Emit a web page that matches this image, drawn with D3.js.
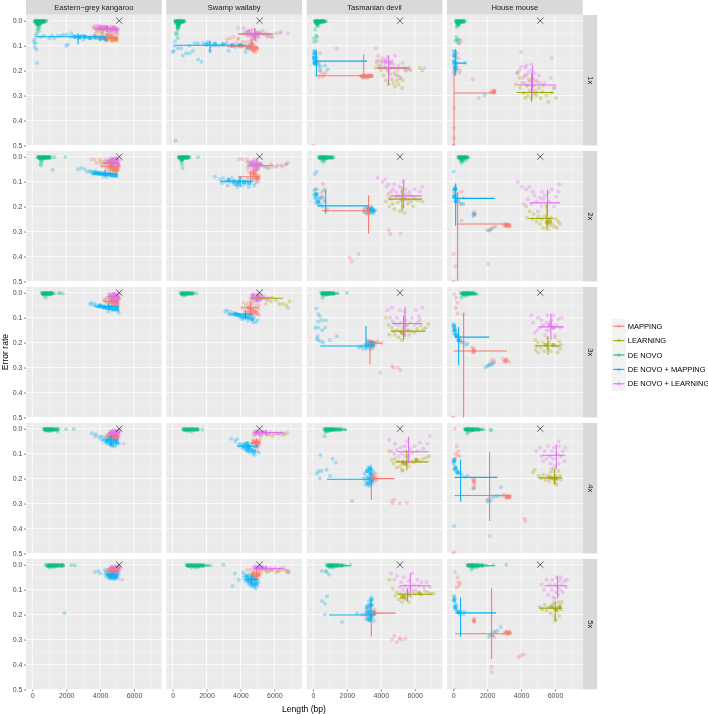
<!DOCTYPE html>
<html><head><meta charset="utf-8">
<script src="https://cdn.jsdelivr.net/npm/d3@7/dist/d3.min.js"></script>
<style>html,body{margin:0;padding:0;background:#fff}svg{display:block;font-family:"Liberation Sans",Arial,sans-serif;filter:blur(.3px)}</style>
</head><body><svg id="c" width="708" height="714"></svg>
<script>
const species=["Eastern\u2212grey kangaroo","Swamp wallaby","Tasmanian devil","House mouse"];
const coverage=["1x","2x","3x","4x","5x"];
const seriesNames=["MAPPING","LEARNING","DE NOVO","DE NOVO + MAPPING","DE NOVO + LEARNING"];
const seriesColors=["#F8766D","#A3A500","#00BF7D","#00B0F6","#E76BF3"];
const xTicks=[0,2000,4000,6000], xMinor=[1000,3000,5000,7000];
const yTicks=[0,.1,.2,.3,.4,.5], yMinor=[.05,.15,.25,.35,.45];
const referenceLength=5130, referenceError=0;

// points: [species][coverage] -> flat length,error pairs
const mappingPts=[[
[3700,.055,3900,.06,4000,.075,4100,.05,4200,.065,4300,.07,4350,.055,4400,.08,4500,.062,4550,.072,4600,.05,4650,.07,4700,.082,4750,.065,4800,.06,4850,.075,4900,.07,4950,.08,5000,.068,5020,.055,3800,.04,4000,.045,4200,.04],
[3500,.01,3700,.012,3800,.025,4000,.01,4050,.03,4200,.02,4300,.035,4350,.05,4450,.04,4500,.055,4600,.03,4650,.045,4700,.06,4750,.05,4800,.035,4850,.055,4900,.04,4950,.06,5000,.05,5050,.035,5100,.045,4550,.02],
[4200,.03,4300,.025,4400,.04,4450,.03,4500,.05,4550,.035,4600,.045,4650,.03,4700,.055,4750,.04,4800,.05,4850,.035,4900,.055,4950,.045,5000,.04,5050,.055,5100,.045,4350,.035,4600,.025,4800,.028],
[4350,.03,4450,.025,4500,.04,4550,.03,4650,.04,4700,.025,4750,.045,4800,.03,4850,.04,4950,.03,5000,.04,5050,.025,5100,.035,4600,.018,4900,.015],
[4400,.03,4450,.02,4550,.035,4600,.02,4650,.03,4700,.035,4750,.015,4800,.03,4850,.025,4950,.035,5000,.02,5050,.03,5100,.025,4700,.01]
],[
[3200,.075,3400,.07,3600,.065,3700,.09,3850,.075,4000,.105,4100,.085,4200,.1,4300,.085,4350,.11,4450,.1,4500,.085,4550,.115,4600,.095,4650,.075,4700,.105,4750,.12,4800,.1,4850,.11,4900,.125,4950,.105,5000,.115,4650,.09,4800,.125],
[3900,.01,4100,.01,4400,.045,4500,.06,4600,.065,4650,.05,4700,.08,4750,.06,4800,.07,4850,.055,4900,.085,4950,.07,5000,.08,5050,.09,5100,.075,5050,.1,4950,.095,4800,.09],
[4100,.06,4200,.04,4250,.075,4350,.05,4450,.07,4500,.04,4550,.06,4600,.085,4650,.05,4700,.07,4750,.04,4800,.09,4850,.06,4900,.075,4950,.05,5000,.085,5050,.065,5100,.05,5100,.09,5500,.045,4450,.09],
[4700,.045,4750,.06,4800,.05,4850,.07,4900,.045,4950,.06,5000,.075,5050,.05,5100,.065,5150,.045,4900,.07,4850,.05,5000,.055],
[4400,.02,4600,.02,4700,.035,4750,.05,4800,.03,4850,.045,4900,.055,4950,.035,5000,.05,5050,.03,5100,.045,5180,.025,5800,.02,6200,.025,6800,.03]
],[
[20,.5,350,.17,400,.13,420,.2,520,.21,660,.215,760,.205,1400,.11,2800,.222,2900,.225,3000,.22,3050,.226,3100,.219,3150,.224,3200,.221,3250,.226,3300,.22,3350,.222,3400,.218,3450,.221,2950,.23,3200,.23,350,.225,600,.225],
[600,.11,500,.145,720,.13,640,.17,460,.165,240,.13,2990,.22,3050,.205,3100,.225,3150,.21,3200,.23,3250,.2,3280,.218,3300,.225,3400,.21,3450,.222,3500,.205,3550,.22,4460,.295,4560,.31,5150,.308,2690,.39,2160,.405,2280,.42,740,.215,850,.21],
[3185,.19,3250,.2,3300,.21,3350,.2,3400,.215,3450,.195,3500,.205,3550,.22,3600,.2,3650,.21,3750,.2,3800,.195,4060,.202,4750,.3,3970,.32,4650,.296,5000,.3,5150,.31],
[3480,.19,3550,.2,3600,.185,3650,.21,3700,.195,3750,.205,3700,.18,3650,.2,4660,.29,4700,.3,5100,.3,5540,.298,4800,.285,3500,.21],
[3100,.195,3150,.21,3200,.19,3300,.2,3400,.185,3500,.2,3600,.19,3700,.195,3620,.18,3550,.205,3300,.175,4660,.3,4800,.285,4950,.31,5100,.295,5200,.3,5450,.297]
],[
[240,.13,300,.15,200,.17,400,.2,1150,.235,260,.19,2200,.285,2300,.29,2350,.28,2450,.28,2400,.288,1500,.31,20,.5,30,.47,40,.43,50,.35,10,.5,360,.09,240,.08,460,.08,360,.21],
[2970,.275,3050,.27,3100,.28,3150,.272,3200,.278,3280,.273,3320,.28,2000,.295,2150,.297,2250,.29,2400,.282,2480,.28,1230,.222,1290,.23,1200,.234,220,.15,300,.17,500,.14,400,.19,600,.165,20,.39,120,.44,2050,.43,-20,.5,40,.5,480,.255],
[50,.005,150,.02,250,.04,140,.06,250,.083,600,.085,1100,.22,1200,.23,1230,.24,1150,.24,1200,.225,2100,.29,2200,.28,2300,.27,2400,.275,2950,.265,3050,.28,3165,.27,3300,.278,3000,.275,420,.19,500,.2,0,.5,-10,.5],
[80,.0,200,.07,300,.09,250,.105,100,.12,120,.1,350,.11,1150,.205,1230,.2,1270,.22,1200,.225,1180,.24,1250,.235,2900,.27,3000,.265,3100,.278,3200,.27,3250,.275,3300,.272,3360,.27,4190,.36,4250,.37,2140,.43,0,.5,40,.495,2150,.27,2000,.285],
[100,.03,250,.05,300,.07,400,.075,180,.09,320,.085,1180,.22,1230,.23,1250,.215,3000,.275,3100,.27,3200,.28,3300,.272,3360,.275,2250,.28,2400,.29,2500,.27,3850,.37,4000,.365,4150,.36,2260,.41,2280,.43,-10,.505,80,.5]
]];
const learningPts=[[
[3650,.03,3800,.045,4000,.035,4150,.05,4300,.03,4450,.055,4600,.04,4750,.03,4900,.05,4950,.075,5000,.078,4500,.075,4700,.078,4200,.07],
[4000,.02,4200,.03,4400,.02,4500,.04,4650,.015,4750,.03,4900,.05,5000,.02,5100,.035,4850,.01],
[4400,.02,4550,.01,4700,.025,4850,.01,4950,.03,5050,.015,5100,.025,4700,.005],
[4500,.02,4650,.01,4800,.025,4950,.01,5050,.02,5150,.005],
[4500,.02,4700,.01,4850,.02,5000,.005,5100,.015,5150,.01]
],[
[3900,.07,4200,.05,4400,.06,4600,.04,4800,.055,5000,.065,5200,.05,5400,.055,5600,.06,5800,.065,6100,.05,6400,.045,4700,.08],
[4400,.02,4600,.035,4800,.02,5000,.05,5200,.03,5400,.04,5600,.045,5800,.03,6100,.04,6400,.035,6700,.03],
[4700,.02,4950,.03,5200,.025,5400,.015,5600,.03,5800,.035,5900,.02,6100,.03,6300,.045,6500,.045,6700,.05,6900,.035,6800,.06],
[4800,.025,5000,.015,5200,.03,5400,.015,5550,.025,5700,.02,5900,.03,6100,.02,6300,.02,6500,.025,6650,.02],
[4800,.03,5000,.015,5200,.035,5400,.02,5550,.03,5700,.025,5900,.02,6100,.03,6300,.025,6500,.02,6700,.025,6850,.03]
],[
[3775,.16,3900,.18,4000,.2,4050,.165,4150,.22,4250,.19,4300,.24,4400,.2,4450,.255,4550,.215,4600,.17,4650,.235,4750,.25,4800,.21,4850,.265,4950,.24,5000,.22,5050,.255,5150,.23,5250,.27,5300,.24,5400,.19,5500,.2,5650,.19,5750,.2,6300,.19,6450,.2,3700,.19],
[4300,.18,4450,.15,4500,.2,4600,.17,4700,.19,4800,.21,4900,.16,5000,.185,5100,.22,5200,.175,5300,.2,5400,.225,5500,.17,5600,.19,5700,.155,5800,.18,5900,.2,6000,.17,6200,.175,6450,.18],
[4300,.1,4450,.13,4500,.17,4650,.14,4750,.155,4850,.17,4950,.15,5050,.18,5150,.155,5250,.19,5350,.165,5450,.13,5550,.15,5650,.17,5800,.155,6000,.16,6150,.145,6350,.13,6500,.145,6650,.14,6800,.125],
[4500,.09,4650,.125,4750,.14,4850,.12,4950,.155,5050,.13,5150,.15,5250,.165,5350,.14,5450,.11,5550,.13,5650,.15,5800,.13,5950,.135,6100,.125,6300,.13,6500,.12,6700,.115,6850,.11,5300,.17],
[4500,.06,4700,.095,4850,.125,4950,.11,5050,.14,5150,.115,5250,.15,5350,.12,5450,.14,5550,.115,5650,.15,5750,.125,5850,.105,6000,.115,6200,.11,6400,.12,6600,.105,6750,.11,6950,.115,7100,.115]
],[
[3750,.21,3900,.23,3950,.27,4050,.25,4150,.29,4200,.22,4250,.31,4350,.26,4400,.3,4450,.235,4500,.28,4600,.31,4650,.26,4700,.295,4750,.24,4850,.28,4900,.3,4950,.25,5050,.27,5150,.31,5250,.285,5300,.26,5500,.3,5600,.325,5800,.29,5950,.27,6050,.31,3700,.255],
[4300,.2,4500,.22,4650,.25,4750,.23,4900,.26,5000,.24,5100,.27,5200,.25,5300,.285,5400,.24,5500,.26,5550,.29,5600,.25,5700,.275,5750,.245,5850,.27,5950,.28,6050,.25,6100,.285,6200,.26,6300,.27,4350,.245],
[4840,.19,4850,.23,4900,.215,5000,.2,5000,.24,5150,.22,5300,.2,5350,.235,5450,.21,5550,.18,5600,.225,5650,.2,5750,.235,5850,.21,6000,.18,6100,.215,6150,.24,6250,.195,6300,.225,6350,.21],
[5030,.19,5200,.2,5300,.185,5450,.205,5550,.19,5650,.21,5750,.175,5850,.195,5950,.165,6000,.215,6050,.19,6100,.225,6150,.2,6200,.17,6300,.19,6350,.205,4800,.165,4700,.175],
[5090,.17,5250,.18,5400,.16,5500,.185,5650,.17,5750,.195,5850,.16,5950,.205,6000,.175,6050,.22,6150,.185,6200,.15,6250,.205,6300,.165,6350,.18,6400,.15,6000,.225,5950,.15]
]];
const denovoPts=[[
[120,0,200,.002,280,0,340,.004,400,0,460,.002,520,0,580,.003,650,0,720,.002,800,.001,850,0,180,.008,260,.01,330,.012,420,.009,500,.01,600,.008,300,.02,380,.018,450,.016,350,.028,300,.035,420,.03,380,.042,250,.05,200,.003,300,.005,450,.005],
[300,0,380,.003,450,0,520,.004,600,0,680,.003,760,0,840,.003,920,0,1000,.002,1100,.001,1300,.002,1950,.001,420,.008,520,.01,600,.008,700,.007,500,.018,560,.02,480,.03,520,.035,1200,.052,400,.003,650,.004],
[550,0,620,.003,700,0,780,.004,850,0,930,.003,1000,0,1060,.003,1150,0,1300,.002,1550,.002,1650,.001,1800,.003,900,.008,750,.007,1000,.007,700,.012,800,.02,600,.003,650,.005],
[650,0,720,.003,800,0,880,.004,950,0,1030,.003,1100,0,1180,.004,1280,.001,1400,.002,1550,.001,2000,.002,2450,.001,1000,.01,1500,.012,1150,.008,850,.008,750,.004],
[780,0,850,.004,930,0,1000,.005,1080,0,1150,.006,1220,0,1300,.004,1380,0,1460,.003,1550,0,1650,.002,1800,.001,2300,.001,2500,.002,1000,.012,1150,.01,1350,.009,1900,.195,900,.004,1050,.003]
],[
[130,0,200,.003,270,0,330,.004,400,0,470,.003,530,0,600,.003,680,.001,720,.002,200,.01,280,.012,340,.01,420,.009,300,.02,360,.018,280,.03,340,.028,300,.04,250,.055,300,.07,180,.05,180,.48,260,.004],
[350,0,430,.003,500,0,570,.004,650,0,720,.003,800,0,880,.003,950,.001,1000,.002,1500,.002,450,.01,530,.012,620,.01,520,.02,560,.03,580,.045,490,.005],
[450,0,530,.004,600,0,680,.004,760,0,840,.003,920,0,1000,.002,1100,.002,1250,.001,1400,.003,650,.012,780,.01,550,.008,720,.006],
[600,0,700,.003,800,0,900,.004,1000,0,1100,.003,1200,0,1300,.004,1450,.002,1500,.003,1750,.003,900,.01,1100,.012,700,.005,850,.005],
[800,0,900,.003,1000,0,1100,.004,1200,0,1300,.004,1400,0,1500,.005,1600,0,1700,.003,1850,.002,2050,.001,2250,.003,3000,0,1100,.012,1350,.012,1500,.01,950,.005,1250,.006]
],[
[80,0,150,.003,220,0,290,.004,360,0,430,.003,500,0,570,.002,660,.001,790,.002,180,.01,260,.012,330,.01,400,.009,220,.02,300,.022,120,.035,180,.06,50,.07,240,.065,60,.085,200,.08,160,.006,300,.006],
[330,0,420,.003,500,0,580,.004,660,0,740,.003,820,0,900,.003,980,.001,1100,.002,1220,.002,500,.01,620,.012,720,.01,560,.02,660,.018,420,.007,780,.006],
[470,0,560,.004,650,0,740,.004,820,0,900,.003,980,0,1060,.002,1160,.001,1280,.002,1460,.001,2000,.001,600,.01,750,.009,560,.02,850,.006],
[630,0,720,.004,810,0,900,.004,990,0,1080,.004,1170,0,1260,.003,1400,.001,1550,.002,1750,.002,1900,.003,720,.012,800,.012,920,.01,680,.03,1020,.006],
[790,0,880,.004,970,0,1060,.005,1150,0,1240,.004,1330,0,1420,.004,1520,.001,1700,.002,1900,.002,2200,.001,1000,.012,1200,.011,760,.025,1100,.007]
],[
[120,0,190,.003,260,0,330,.004,400,0,470,.003,540,0,600,.003,710,.001,200,.01,280,.012,350,.01,240,.02,330,.018,200,.025,120,.08,240,.075,350,.075,180,.065,300,.09,280,.006],
[280,0,360,.003,440,0,520,.004,600,0,680,.003,760,0,840,.002,900,.002,400,.012,520,.012,600,.01,480,.025,620,.018,780,.012,500,.006],
[430,0,520,.004,600,0,680,.004,760,0,840,.003,920,0,1000,.003,1100,.001,1200,.002,1300,.004,1400,.006,600,.012,720,.012,850,.01,480,.02,660,.006],
[660,0,740,.004,820,0,900,.004,980,0,1060,.004,1140,0,1220,.003,1300,.001,1450,.002,1650,.002,1790,.003,2180,.004,2250,.006,860,.012,1000,.01,820,.02,1100,.006],
[810,0,900,.004,990,0,1080,.005,1170,0,1260,.004,1350,0,1440,.004,1530,.001,1650,.002,1800,.002,1950,.002,2380,.002,3125,0,1100,.012,1250,.012,1400,.01,1050,.02,1200,.006]
]];
const dnMappingPts=[[
[80,.085,120,.075,140,.105,220,.06,250,.115,280,.17,200,.09,500,.065,700,.06,1000,.07,1150,.06,1300,.07,1500,.06,1700,.06,1850,.055,2050,.055,2100,.095,2000,.1,2250,.065,2400,.06,2600,.06,2700,.065,2750,.07,2900,.06,3050,.06,3200,.065,3350,.07,3500,.07,3650,.06,3800,.07,3950,.065,4050,.075,4200,.07,4350,.075,2300,.05,3000,.075],
[2700,.05,2900,.045,3100,.05,3250,.06,3400,.055,3450,.062,3550,.06,3650,.065,3700,.057,3800,.068,3850,.062,3950,.07,4000,.063,4100,.07,4200,.064,4300,.072,4350,.067,4450,.072,4550,.069,4650,.073,4700,.078,4800,.074,4900,.075,4950,.072,5000,.078,4200,.08,3600,.072,4400,.08],
[3400,.045,3500,.04,3600,.05,3700,.045,3800,.052,3900,.057,4000,.05,4100,.058,4200,.052,4300,.062,4350,.055,4450,.06,4550,.057,4600,.066,4700,.06,4750,.07,4850,.063,4950,.068,5000,.06,5050,.072,5100,.08,4500,.075],
[3500,.018,3700,.03,3750,.022,3950,.035,4050,.03,4100,.045,4200,.035,4300,.055,4350,.04,4400,.045,4450,.06,4550,.05,4600,.035,4650,.065,4750,.05,4800,.04,4850,.07,4950,.055,5000,.045,5100,.06,4700,.07,4500,.035,4900,.065],
[3700,.03,3900,.025,4000,.035,4300,.04,4350,.03,4400,.05,4450,.04,4550,.045,4600,.03,4650,.055,4700,.04,4750,.05,4800,.03,4850,.055,4950,.045,5000,.03,5050,.055,5100,.04,4550,.055,4800,.058,4300,.02]
],[
[20,.125,60,.12,100,.1,140,.082,300,.11,500,.11,600,.14,800,.13,1000,.13,1200,.12,1500,.155,1700,.165,1000,.1,1300,.09,1500,.09,1800,.09,2050,.085,2200,.09,2220,.12,2300,.1,2500,.09,2700,.1,2900,.095,3200,.09,3300,.12,3500,.1,3700,.105,3900,.095,4100,.1,4300,.125,4400,.11,4550,.1],
[2500,.08,2800,.09,2900,.105,3000,.085,3100,.1,3250,.115,3300,.09,3400,.1,3500,.085,3600,.11,3700,.095,3800,.12,3900,.1,3980,.085,4050,.115,4150,.095,4250,.11,4350,.1,4450,.09,4500,.12,4600,.105,4700,.09,4800,.115,4900,.105],
[3100,.075,3200,.07,3300,.085,3400,.075,3500,.09,3600,.08,3700,.09,3800,.085,3900,.095,4000,.088,4050,.105,4150,.09,4250,.1,4300,.088,4400,.1,4450,.112,4550,.095,4650,.108,4750,.118,4800,.1,4900,.118,5000,.11,4200,.105],
[3460,.04,3700,.05,3800,.042,3900,.065,4000,.06,4050,.075,4100,.065,4200,.08,4250,.06,4300,.085,4350,.07,4400,.09,4500,.07,4550,.095,4600,.075,4650,.06,4700,.09,4750,.1,4800,.08,4850,.105,4950,.09,5000,.07,5100,.095],
[3670,.035,3540,.085,3900,.06,4150,.03,4200,.05,4250,.04,4300,.065,4350,.045,4400,.06,4450,.075,4500,.05,4550,.08,4600,.06,4650,.085,4700,.07,4750,.05,4800,.09,4850,.075,4900,.095,4950,.06,5000,.085,5050,.07,4450,.04,4600,.04]
],[
[60,.12,100,.13,40,.14,140,.12,80,.15,160,.14,60,.165,140,.16,220,.15,100,.175,180,.175,260,.17,340,.18,430,.185,880,.195,700,.18,400,.2],
[80,.135,150,.13,60,.15,140,.155,220,.15,100,.165,180,.17,260,.165,350,.175,440,.165,550,.16,620,.135,160,.185,320,.19,460,.19,560,.2,680,.18,3000,.215,3100,.225,3200,.205,3280,.218,3350,.21,3400,.225,3450,.2,3500,.215,3550,.228,3600,.22,3680,.215,3300,.228,200,.06,100,.07],
[200,.063,320,.085,400,.095,300,.115,520,.11,760,.11,140,.14,300,.14,540,.15,720,.14,220,.185,300,.19,460,.195,600,.2,1000,.19,1410,.175,280,.175,2700,.22,2850,.215,2950,.225,3050,.21,3150,.225,3200,.2,3250,.215,3300,.195,3350,.222,3400,.21,3450,.225,3500,.2,3550,.215,3580,.205],
[430,.105,1150,.12,1350,.135,330,.17,500,.17,800,.165,1000,.19,400,.2,240,.18,2990,.2,3050,.18,3100,.21,3150,.195,3200,.17,3250,.215,3250,.155,3300,.19,3300,.23,3350,.17,3400,.205,3400,.15,3450,.185,3500,.22,3500,.165,3550,.2,3580,.175,3100,.225,2300,.29],
[530,.025,800,.03,950,.04,530,.145,825,.127,700,.155,1710,.23,700,.2,3090,.2,3150,.18,3150,.22,3200,.19,3250,.16,3250,.21,3300,.2,3300,.145,3350,.185,3350,.225,3400,.17,3400,.2,3450,.13,3450,.215,3500,.16,3500,.19,3580,.225,3600,.19,2600,.195,2900,.2]
],[
[20,.12,60,.13,100,.125,40,.14,120,.15,60,.16,40,.175,140,.17,100,.18,60,.19,120,.195,40,.205,80,.215,200,.2,160,.18,700,.17,1850,.3],
[20,.059,60,.13,100,.12,40,.14,140,.13,60,.15,150,.155,220,.17,80,.165,140,.175,300,.18,480,.19,600,.19,1200,.228,1260,.232,1180,.238,2100,.295,2250,.288,40,.16],
[10,.125,40,.13,80,.14,20,.15,100,.15,50,.165,140,.16,200,.17,260,.175,320,.19,420,.195,600,.2,1890,.3,2000,.295,2100,.29,2200,.29,2300,.285,2380,.282,740,.21,840,.205],
[30,.125,80,.12,20,.14,100,.15,60,.165,160,.155,220,.17,280,.18,380,.175,500,.185,700,.195,860,.19,1200,.24,2000,.293,2100,.285,2200,.29,2350,.275,2500,.27,2650,.27,2820,.235,40,.39],
[30,.125,80,.13,40,.145,120,.155,180,.165,80,.17,200,.18,300,.19,400,.2,500,.19,600,.2,120,.18,680,.19,2100,.29,2200,.28,2300,.285,2400,.27,2600,.265,2800,.25]
]];
const dnLearningPts=[[
[3600,.025,3700,.03,3750,.018,3850,.028,3950,.035,4000,.022,4100,.03,4150,.04,4250,.025,4300,.035,4400,.03,4450,.04,4550,.028,4600,.035,4700,.04,4750,.03,4800,.045,4900,.035,4950,.04,5000,.03,5020,.045,5050,.035,3900,.02,4500,.045,4650,.022,4850,.025],
[4250,.02,4350,.01,4400,.03,4500,.015,4550,.025,4600,.035,4650,.01,4700,.02,4750,.03,4800,.04,4850,.015,4900,.025,4950,.035,5000,.012,5050,.03,5100,.02,5100,.04,5150,.01,4800,.005,4600,.005,4950,.005],
[4500,.005,4550,.02,4600,.012,4700,.025,4750,.005,4800,.018,4850,.03,4900,.01,4950,.022,5000,.005,5050,.03,5100,.015,5150,.025,4650,.03,4900,.035,5100,.005,4800,.01],
[4550,.02,4600,.01,4650,.028,4700,.015,4800,.005,4850,.03,4900,.018,4950,.008,5000,.028,5050,.015,5100,.005,5150,.022,4750,.03,4900,.035,5000,.038,5400,.06],
[4550,.02,4600,.012,4700,.005,4750,.025,4800,.012,4850,.03,4900,.02,4950,.008,5000,.028,5050,.015,5100,.005,5150,.02,5300,.06,4800,.035,4950,.035]
],[
[3870,.03,4200,.03,4300,.045,4400,.055,4500,.04,4550,.06,4650,.05,4700,.065,4750,.035,4800,.055,4850,.07,4900,.05,4950,.08,5000,.06,5050,.045,5100,.065,5200,.05,5300,.04,5500,.05,5600,.065,5700,.055,5900,.065,6300,.05,6800,.05],
[4400,.01,4500,.025,4550,.04,4650,.02,4700,.035,4750,.015,4800,.045,4850,.03,4900,.02,4950,.04,5000,.03,5050,.05,5100,.025,5150,.04,5200,.03,5300,.035,5500,.04,5700,.045,5900,.04,6200,.035,6500,.04,6700,.03,6810,.025,4900,.01],
[4650,.012,4700,.03,4750,.005,4800,.02,4850,.03,4900,.01,4950,.025,5000,.005,5050,.03,5100,.015,5150,.03,5200,.01,5250,.025,5350,.02,5500,.025,5700,.02,4600,.025,5000,.035],
[4770,.015,4850,.025,4900,.008,5000,.02,5050,.01,5150,.025,5200,.012,5300,.02,5400,.012,5500,.02,5600,.015,5700,.022,5800,.015,5950,.02,6100,.015,6250,.02,6400,.015,6550,.018,6770,.015],
[4770,.01,4850,.02,4900,.005,5000,.018,5100,.008,5150,.02,5250,.01,5350,.018,5450,.01,5550,.015,5650,.02,5750,.012,5900,.018,6050,.012,6200,.018,6350,.015,6500,.012,6650,.018,6840,.025]
],[
[3700,.11,3750,.17,3850,.14,3950,.16,4000,.18,4100,.15,4150,.165,4250,.18,4300,.155,4400,.145,4450,.2,4550,.17,4600,.19,4650,.16,4750,.175,4800,.19,4850,.14,4900,.22,5000,.2,5050,.18,5150,.23,5300,.17,5450,.2,5700,.195,6600,.19],
[3800,.085,4100,.1,4250,.09,4350,.12,4450,.11,4600,.14,4700,.13,4800,.11,4900,.14,5000,.155,5100,.12,5150,.16,5250,.14,5300,.1,5400,.17,5450,.13,5500,.15,5650,.175,5700,.14,5900,.16,6000,.13,6300,.14,6450,.12,4500,.165],
[4400,.07,4550,.1,4650,.06,4700,.115,4850,.125,4950,.1,5050,.13,5100,.07,5200,.12,5300,.14,5400,.075,5450,.11,5550,.13,5650,.15,5750,.12,5850,.1,6000,.13,6050,.07,6150,.12,6300,.11,6450,.06,6250,.095,5350,.17],
[4500,.045,4650,.09,4800,.1,4850,.06,4950,.085,5050,.11,5150,.075,5250,.1,5350,.13,5450,.09,5550,.05,5650,.11,5750,.08,5850,.095,6000,.07,6150,.09,6300,.055,6500,.08,6750,.06,6900,.03,5400,.07],
[4600,.035,4800,.06,4950,.045,5100,.09,5200,.07,5300,.1,5350,.05,5450,.085,5550,.105,5650,.065,5750,.09,5850,.035,5950,.08,6050,.1,6150,.06,6250,.085,6400,.07,6550,.09,6700,.07,6900,.09,5700,.12]
],[
[3800,.21,3900,.2,4000,.185,4100,.23,4200,.25,4250,.19,4300,.22,4350,.26,4400,.21,4500,.245,4550,.2,4600,.175,4700,.23,4750,.26,4800,.21,4850,.29,4950,.24,5050,.22,5150,.25,5400,.25,5750,.23,5800,.15,5950,.27,4000,.125,4300,.18],
[3800,.1,4050,.12,4300,.13,4400,.17,4500,.12,4600,.19,4700,.14,4800,.155,4900,.18,5000,.22,5100,.165,5200,.2,5250,.14,5300,.17,5400,.155,5500,.2,5600,.145,5650,.18,5800,.13,5950,.2,6050,.16,6200,.14,6250,.11,4150,.19],
[4600,.09,4700,.12,4800,.16,4950,.15,5000,.1,5100,.14,5200,.11,5300,.13,5400,.17,5500,.12,5550,.09,5650,.15,5700,.12,5800,.11,5900,.14,6000,.17,6100,.13,6200,.105,6300,.14,6400,.1,5500,.15,5900,.09],
[4900,.09,5100,.075,5200,.11,5300,.13,5400,.09,5500,.12,5600,.07,5700,.11,5750,.14,5800,.09,5900,.12,5950,.075,6000,.15,6100,.1,6200,.14,6250,.07,6350,.11,6450,.09,6550,.13,6600,.075,6200,.05,5800,.16],
[5200,.08,5350,.1,5500,.06,5600,.12,5700,.08,5800,.1,5850,.06,5900,.13,6000,.08,6050,.11,6100,.05,6150,.09,6200,.12,6250,.065,6300,.1,6350,.05,6400,.08,6450,.11,6550,.065,6650,.09,6700,.06,6000,.135]
]];

// dense cluster cores, same shape, drawn more solidly
const mappingCore=[[
[4150,.065,4350,.075,4550,.065,4750,.075,4900,.07,4650,.06],[4650,.045,4800,.055,4950,.045,5000,.055,4750,.04],[4650,.035,4800,.045,4950,.035,5000,.045],[4700,.03,4850,.035,5000,.03],[4650,.025,4800,.025,4950,.025]
],[
[4500,.105,4650,.11,4800,.115,4950,.11,4700,.095],[4750,.065,4850,.075,4950,.085,5050,.085,4850,.06],[4500,.06,4650,.065,4800,.075,4950,.08,4650,.085,4500,.08],[4800,.055,4950,.06,5050,.055],[4750,.04,4900,.045,5050,.04]
],[
[2900,.222,3100,.222,3300,.222,3450,.222],[3300,.215],[3400,.2,3550,.2],[3550,.195],[3600,.195]
],[
[2400,.285],[3100,.275,3280,.275],[1200,.232,3100,.272],[3150,.272,3280,.275,1220,.21],[3150,.272,3300,.272,1230,.225]
]];
const learningCore=[[[],[],[],[],[]],[[],[],[],[],[]],
[[],[],[5250,.16],[5300,.135,5450,.14,6100,.125],[5250,.13,5400,.13,6300,.115]],
[[],[5550,.265,5700,.26],[5500,.21,5900,.21],[5700,.195,5900,.2,6050,.2],[5800,.17,6050,.18,6250,.17]]];
const denovoCore=[[
[200,.003,300,.003,400,.003,500,.003,600,.003,700,.003,300,.012,400,.012],[400,.003,500,.003,600,.003,700,.003,800,.003,900,.003,1000,.003],[650,.003,750,.003,850,.003,950,.003,1050,.003,1150,.003],[750,.003,850,.003,950,.003,1050,.003,1150,.003,1300,.003,1450,.003],[950,.003,1100,.003,1250,.003,1400,.003,1550,.003,1700,.003,1800,.003]
],[
[200,.003,300,.003,400,.003,500,.003,600,.003,300,.012,400,.012,320,.025],[400,.003,500,.003,600,.003,700,.003,800,.003,900,.003,550,.012],[550,.003,700,.003,850,.003,1000,.003,1150,.003],[700,.003,850,.003,1000,.003,1150,.003,1300,.003,1450,.003],[900,.003,1050,.003,1200,.003,1350,.003,1500,.003,1650,.003,1800,.003]
],[
[150,.003,250,.003,350,.003,450,.003,550,.003,650,.003,250,.012],[400,.003,500,.003,600,.003,700,.003,800,.003,950,.003,1100,.003],[550,.003,650,.003,750,.003,850,.003,950,.003,1050,.003,1200,.003],[750,.003,850,.003,1000,.003,1100,.003,1250,.003,1400,.003,1600,.003],[900,.003,1000,.003,1100,.003,1200,.003,1350,.003,1500,.003,1700,.003]
],[
[200,.003,300,.003,400,.003,500,.003,600,.003,300,.012],[350,.003,450,.003,550,.003,650,.003,750,.003,500,.015],[550,.003,650,.003,750,.003,850,.003,950,.003,1050,.003,1200,.003],[750,.003,850,.003,950,.003,1100,.003,1200,.003,1350,.003,1500,.003],[900,.003,1000,.003,1100,.003,1200,.003,1350,.003,1500,.003,1700,.003]
]];
const dnMappingCore=[[
[2500,.065,2800,.065,3100,.065,3400,.068,3700,.066,4000,.07,4300,.072],[3700,.064,3900,.067,4100,.068,4300,.07,4500,.07,4700,.073,4900,.075],[4000,.052,4200,.058,4400,.06,4600,.06,4800,.065,5000,.065],[4400,.05,4550,.045,4700,.06,4850,.05,5000,.055,4600,.06],[4500,.04,4650,.045,4800,.04,4950,.045,4600,.05,4900,.05]
],[
[2000,.095,2500,.095,3000,.095,3500,.098,4000,.098],[3300,.095,3600,.1,3900,.1,4200,.102,4500,.105,3800,.11],[3700,.085,3900,.09,4100,.095,4300,.095,4500,.1,4700,.105],[4200,.07,4400,.08,4600,.085,4800,.09,4500,.07,4350,.06],[4400,.05,4500,.065,4650,.07,4800,.08,4950,.075,4650,.055,4850,.06]
],[
[100,.13,60,.15,150,.165,100,.17],[200,.15,300,.18,3300,.21,3450,.21,3550,.215],[3200,.21,3350,.21,3500,.21,3400,.2],[3200,.17,3300,.2,3400,.18,3450,.21,3250,.22,3350,.16],[3200,.17,3300,.19,3400,.16,3400,.21,3300,.22,3450,.14]
],[
[80,.14,50,.165,100,.19],[100,.13,60,.16,150,.18],[40,.135,80,.15,150,.17,300,.19],[50,.13,120,.16,250,.175],[60,.14,120,.17,300,.19]
]];
const dnLearningCore=[[
[3950,.03,4200,.032,4450,.03,4700,.035,4950,.035,4350,.025,4800,.028,4100,.025],[4500,.02,4650,.03,4800,.025,4950,.02,5050,.03,4750,.012,4950,.01],[4650,.015,4800,.025,4950,.015,5050,.022,4850,.006],[4680,.018,4800,.012,4950,.02,5050,.012,4850,.028],[4680,.015,4800,.022,4950,.015,5050,.012]
],[
[4450,.045,4650,.055,4800,.065,4900,.055,5000,.05],[4600,.025,4750,.03,4900,.03,5050,.035,5150,.03,4850,.045],[4750,.012,4900,.02,5050,.015,5150,.022],[4900,.015,5100,.018,5300,.015],[4900,.012,5100,.012,5300,.012]
],[
[4300,.165],[],[],[],[]
],[
[],[],[5700,.13,5900,.14],[],[]
]];

// crosses: [species][coverage] -> centreLength,lengthLow,lengthHigh,centreError,errorLow,errorHigh
const mappingCross=[[[4400,3700,5050,.068,.05,.082],[4600,4000,5100,.04,.015,.06],[4700,4200,5100,.035,.02,.055],[4800,4350,5100,.03,.015,.045],[4850,4400,5100,.025,.012,.04]],
[[4650,3190,4960,.104,.075,.12],[4600,3870,5050,.08,.06,.1],[4600,4100,5100,.06,.035,.09],[4950,4600,5180,.055,.04,.075],[4950,4650,5180,.04,.02,.055]],
[[2990,140,3480,.221,.134,.232],[3280,530,3280,.217,.154,.308],[3360,3185,4070,.203,.19,.288],[3440,3480,4800,.2,.2,.286],[3440,3680,4860,.194,.194,.288]],
[[40,20,2480,.29,.198,.5],[255,216,3320,.27,.14,.5],[610,20,3165,.234,.083,.505],[2140,80,3360,.268,.092,.37],[2260,120,3360,.277,.094,.378]]];
const learningCross=[[[4400,3700,5050,.033,.02,.045],[4700,4200,5100,.025,.005,.045],[4850,4450,5150,.016,.003,.03],[4900,4550,5150,.015,.003,.028],[4900,4550,5150,.012,.002,.025]],
[[4850,3870,5930,.053,.03,.08],[5000,4400,5900,.035,.015,.055],[5000,4600,6500,.022,.005,.035],[5500,4800,6500,.015,.005,.025],[5500,4800,6500,.015,.005,.025]],
[[4460,3775,5640,.19,.158,.258],[5250,4460,6430,.17,.12,.22],[5350,4600,6625,.154,.09,.19],[5540,4860,6820,.133,.086,.166],[5580,4950,7020,.118,.094,.147]],
[[4620,3750,5920,.288,.209,.325],[5525,4440,5920,.248,.187,.288],[5580,4840,6310,.213,.177,.25],[5980,5030,6410,.197,.163,.226],[6015,5090,6410,.174,.147,.225]]];
const denovoCross=[[[400,120,800,.004,0,.015],[700,250,1100,.004,0,.01],[900,550,1300,.004,0,.008],[1100,700,1500,.004,0,.008],[1400,900,1800,.004,0,.008]],
[[400,120,720,.004,0,.015],[650,300,1000,.004,0,.012],[850,450,1250,.004,0,.008],[1000,600,1500,.004,0,.008],[1450,800,2200,.004,0,.008]],
[[350,80,790,.004,0,.012],[700,330,1220,.004,0,.008],[900,470,1510,.004,0,.008],[1200,630,2000,.004,0,.008],[1350,790,2200,.004,0,.008]],
[[400,120,710,.004,0,.012],[550,275,900,.004,0,.01],[800,410,1400,.004,0,.008],[1100,650,1790,.004,0,.008],[1450,800,2380,.004,0,.008]]];
const dnMappingCross=[[[2700,220,4390,.064,.05,.095],[4300,3500,5000,.068,.052,.078],[4500,3700,5100,.055,.04,.07],[4650,4100,5100,.045,.025,.065],[4800,4350,5100,.04,.025,.055]],
[[2200,140,4370,.098,.08,.128],[3980,2795,4750,.098,.08,.12],[4300,3300,4750,.085,.07,.105],[4450,3800,5000,.07,.05,.095],[4650,4200,5100,.06,.04,.085]],
[[200,140,3185,.162,.118,.222],[750,240,3280,.197,.134,.228],[3125,430,3185,.214,.133,.224],[3420,825,3380,.203,.153,.233],[3420,960,3680,.202,.14,.228]],
[[140,80,750,.17,.114,.218],[140,80,2440,.167,.107,.277],[315,80,2120,.178,.137,.29],[430,80,2615,.195,.123,.293],[430,120,2520,.193,.131,.288]]];
const dnLearningCross=[[[4400,3700,5050,.033,.02,.045],[4700,4200,5100,.025,.005,.045],[4850,4450,5150,.016,.003,.03],[4900,4550,5150,.015,.003,.028],[4900,4550,5150,.012,.002,.025]],
[[4850,3870,5930,.053,.03,.08],[5000,4400,5900,.035,.015,.055],[5000,4600,5700,.02,.005,.035],[5500,4800,6500,.015,.005,.025],[5500,4800,6500,.015,.005,.025]],
[[4460,3850,5640,.189,.138,.25],[5350,4570,6430,.157,.09,.207],[5430,4660,6430,.123,.056,.177],[5640,4950,6820,.092,.032,.139],[5740,5110,6920,.084,.033,.12]],
[[4680,3790,6075,.258,.181,.292],[5560,4540,6310,.185,.131,.241],[5760,5030,6510,.137,.083,.19],[6075,5230,6600,.106,.062,.16],[6150,5390,6700,.084,.044,.134]]];

const allPts=[mappingPts,learningPts,denovoPts,dnMappingPts,dnLearningPts];
const allCore=[mappingCore,learningCore,denovoCore,dnMappingCore,dnLearningCore];
const allCross=[mappingCross,learningCross,denovoCross,dnMappingCross,dnLearningCross];

const svg=d3.select("#c");
const panelW=135.7, panelH=130.4, colX=[26,166.3,306.7,447], rowY=[15,151,287,423,559];
const x=d3.scaleLinear().domain([-372,7634]).range([0,panelW]);
const y=d3.scaleLinear().domain([-.023,.5]).range([0,panelH]);
const defs=svg.append("defs");
defs.append("clipPath").attr("id","clip").append("rect").attr("width",panelW).attr("height",panelH);
const pairs=flat=>d3.range(0,flat.length,2).map(i=>[flat[i],flat[i+1]]);

species.forEach((s,c)=>{
  svg.append("rect").attr("x",colX[c]).attr("y",0).attr("width",panelW).attr("height",14.7).attr("fill","#D9D9D9");
  svg.append("text").attr("x",colX[c]+panelW/2).attr("y",10.3).attr("text-anchor","middle").attr("font-size",7.6).attr("fill","#1A1A1A").text(s);
});
coverage.forEach((cv,r)=>{
  svg.append("rect").attr("x",colX[3]+panelW).attr("y",rowY[r]).attr("width",14.4).attr("height",panelH).attr("fill","#D9D9D9");
  svg.append("text").attr("transform",`translate(${colX[3]+panelW+5},${rowY[r]+panelH/2}) rotate(90)`).attr("text-anchor","middle").attr("font-size",7.6).attr("fill","#1A1A1A").text(cv);
});

species.forEach((s,c)=>coverage.forEach((cv,r)=>{
  const g=svg.append("g").attr("transform",`translate(${colX[c]},${rowY[r]})`);
  g.append("rect").attr("width",panelW).attr("height",panelH).attr("fill","#EBEBEB");
  const grid=g.append("g").attr("stroke","#fff");
  grid.selectAll("line.vm").data(xMinor).join("line").attr("class","vm").attr("x1",x).attr("x2",x).attr("y2",panelH).attr("stroke-width",.35);
  grid.selectAll("line.hm").data(yMinor).join("line").attr("class","hm").attr("y1",y).attr("y2",y).attr("x2",panelW).attr("stroke-width",.35);
  grid.selectAll("line.v").data(xTicks).join("line").attr("class","v").attr("x1",x).attr("x2",x).attr("y2",panelH).attr("stroke-width",.8);
  grid.selectAll("line.h").data(yTicks).join("line").attr("class","h").attr("y1",y).attr("y2",y).attr("x2",panelW).attr("stroke-width",.8);
  const plot=g.append("g").attr("clip-path","url(#clip)");
  allPts.forEach((series,si)=>{
    const sg=plot.append("g").attr("fill",seriesColors[si]);
    sg.append("g").selectAll("circle").data(pairs(series[c][r])).join("circle")
      .attr("cx",d=>x(d[0])).attr("cy",d=>y(d[1])).attr("r",2).attr("fill-opacity",.3);
    sg.append("g").selectAll("circle").data(pairs(allCore[si][c][r])).join("circle")
      .attr("cx",d=>x(d[0])).attr("cy",d=>y(d[1])).attr("r",2.2).attr("fill-opacity",.65);
  });
  allCross.forEach((series,si)=>{
    const k=series[c][r], cg=plot.append("g").attr("stroke",seriesColors[si]).attr("stroke-width",1.05);
    cg.append("line").attr("x1",x(k[1])).attr("x2",x(k[2])).attr("y1",y(k[3])).attr("y2",y(k[3]));
    cg.append("line").attr("x1",x(k[0])).attr("x2",x(k[0])).attr("y1",y(k[4])).attr("y2",y(k[5]));
  });
  const mark=g.append("g").attr("transform",`translate(${x(referenceLength)},${y(referenceError)})`).attr("stroke","#111").attr("stroke-width",.65);
  mark.append("line").attr("x1",-3.2).attr("y1",-3.2).attr("x2",3.2).attr("y2",3.2);
  mark.append("line").attr("x1",-3.2).attr("y1",3.2).attr("x2",3.2).attr("y2",-3.2);
  if(c===0){
    const a=g.append("g").attr("class","ax").call(d3.axisLeft(y).tickValues(yTicks).tickFormat(d3.format(".1f")).tickSize(2).tickPadding(1.5));
    a.select(".domain").remove();
  }
  if(r===4){
    const a=g.append("g").attr("class","ax").attr("transform",`translate(0,${panelH})`).call(d3.axisBottom(x).tickValues(xTicks).tickFormat(d3.format("d")).tickSize(2).tickPadding(1.5));
    a.select(".domain").remove();
  }
}));
svg.selectAll(".ax text").attr("font-size",7).attr("fill","#4D4D4D").attr("font-family","Liberation Sans");
svg.selectAll(".ax line").attr("stroke","#333").attr("stroke-width",.6);

svg.append("text").attr("x",304).attr("y",711.5).attr("text-anchor","middle").attr("font-size",8.6).text("Length (bp)");
svg.append("text").attr("transform","translate(8,352) rotate(-90)").attr("text-anchor","middle").attr("font-size",8.6).text("Error rate");

const keyH=14.4, keyX=611.8, keyY=319;
const lg=svg.append("g");
seriesNames.forEach((n,i)=>{
  const gy=keyY+i*keyH;
  lg.append("rect").attr("x",keyX).attr("y",gy).attr("width",14).attr("height",keyH).attr("fill","#F2F2F2");
  lg.append("line").attr("x1",keyX+1.4).attr("x2",keyX+12.6).attr("y1",gy+keyH/2).attr("y2",gy+keyH/2).attr("stroke",seriesColors[i]).attr("stroke-width",1.05);
  lg.append("circle").attr("cx",keyX+7).attr("cy",gy+keyH/2).attr("r",2).attr("fill",seriesColors[i]).attr("fill-opacity",.3);
  lg.append("text").attr("x",keyX+16).attr("y",gy+keyH/2+2.6).attr("font-size",7.5).attr("fill","#000").text(n);
});
</script></body></html>
